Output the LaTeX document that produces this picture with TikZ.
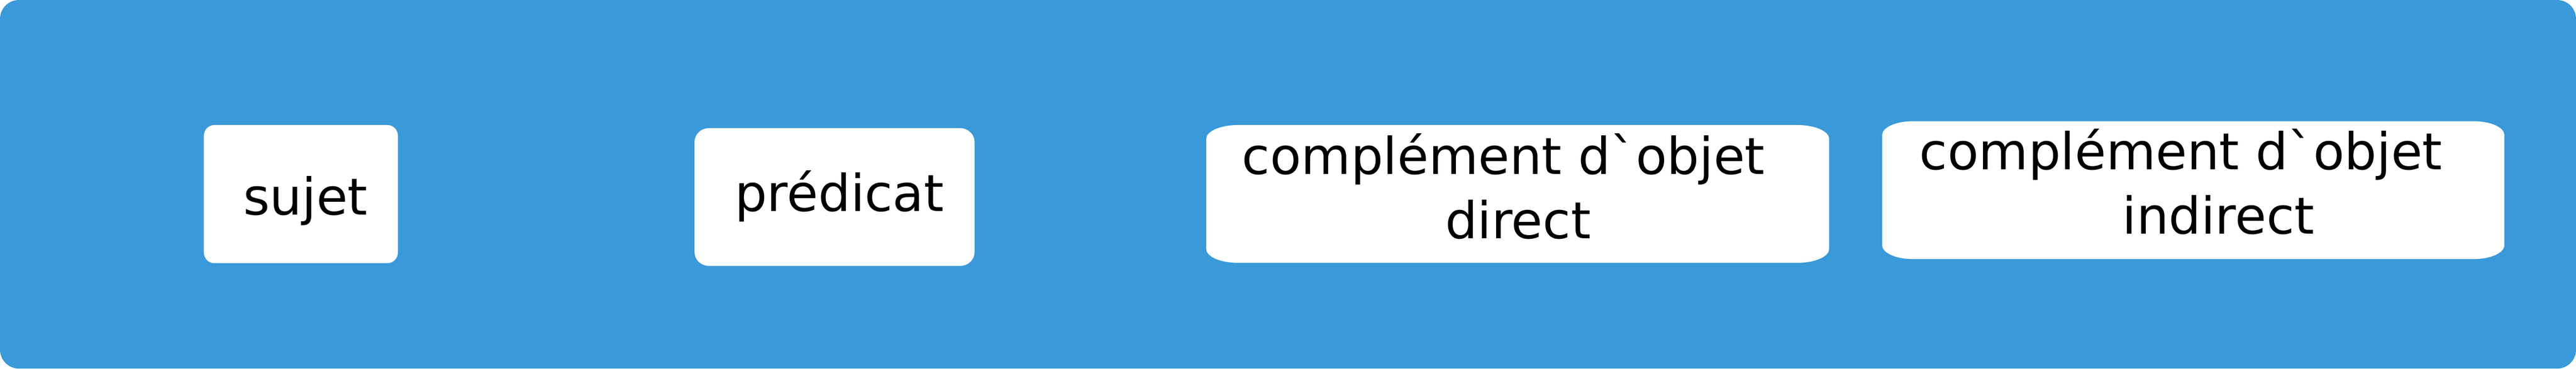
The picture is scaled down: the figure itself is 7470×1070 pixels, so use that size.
\documentclass[tikz,border=0pt]{standalone}
\usepackage{fontspec}
\newfontfamily\dejavu{DejaVu Sans}
\definecolor{bgblue}{HTML}{3A99D8}
\tikzset{
  bgpanel/.style={fill=bgblue, rounded corners=0.55cm},
  cardfill/.style={fill=white},
  cardtext/.style={font=\dejavu\fontsize{42}{53.2}\selectfont, text=black, inner sep=0pt, align=center},
}
% rectangle with elliptical corners: x1 y1 x2 y2 rx ry (pixel units)
\newcommand\ellcard[6]{%
  \fill[cardfill] ({#1+#5},#2) -- ({#3-#5},#2)
    arc[start angle=-90,end angle=0,x radius={#5*0.01cm},y radius={#6*0.01cm}]
    -- (#3,{#4-#6})
    arc[start angle=0,end angle=90,x radius={#5*0.01cm},y radius={#6*0.01cm}]
    -- ({#1+#5},#4)
    arc[start angle=90,end angle=180,x radius={#5*0.01cm},y radius={#6*0.01cm}]
    -- (#1,{#2+#6})
    arc[start angle=180,end angle=270,x radius={#5*0.01cm},y radius={#6*0.01cm}]
    -- cycle;}
\begin{document}
\begin{tikzpicture}[x=0.01cm,y=0.01cm]
\useasboundingbox (0,0) rectangle (7470,1070);
\path[bgpanel] (0,0) rectangle (7470,1070);
% cards
\ellcard{591}{306}{1154}{707}{30}{32}
\ellcard{2014}{298}{2826}{698}{42}{40}
\ellcard{3498}{307}{5304}{707}{92}{40}
\ellcard{5458}{318}{7262}{718}{88}{40}
% texts
\node[cardtext, anchor=base] (sujet) at (886,446) {sujet};
\node[cardtext, anchor=base] (predicat) at (2434,457) {prédicat};
\node[cardtext, anchor=base] (cod) at (4402,377) {complément d`objet\kern0.57em\\direct};
\node[cardtext, anchor=base] (coi) at (6433,391) {complément d`objet\kern1.47em\\indirect};
\end{tikzpicture}
\end{document}
